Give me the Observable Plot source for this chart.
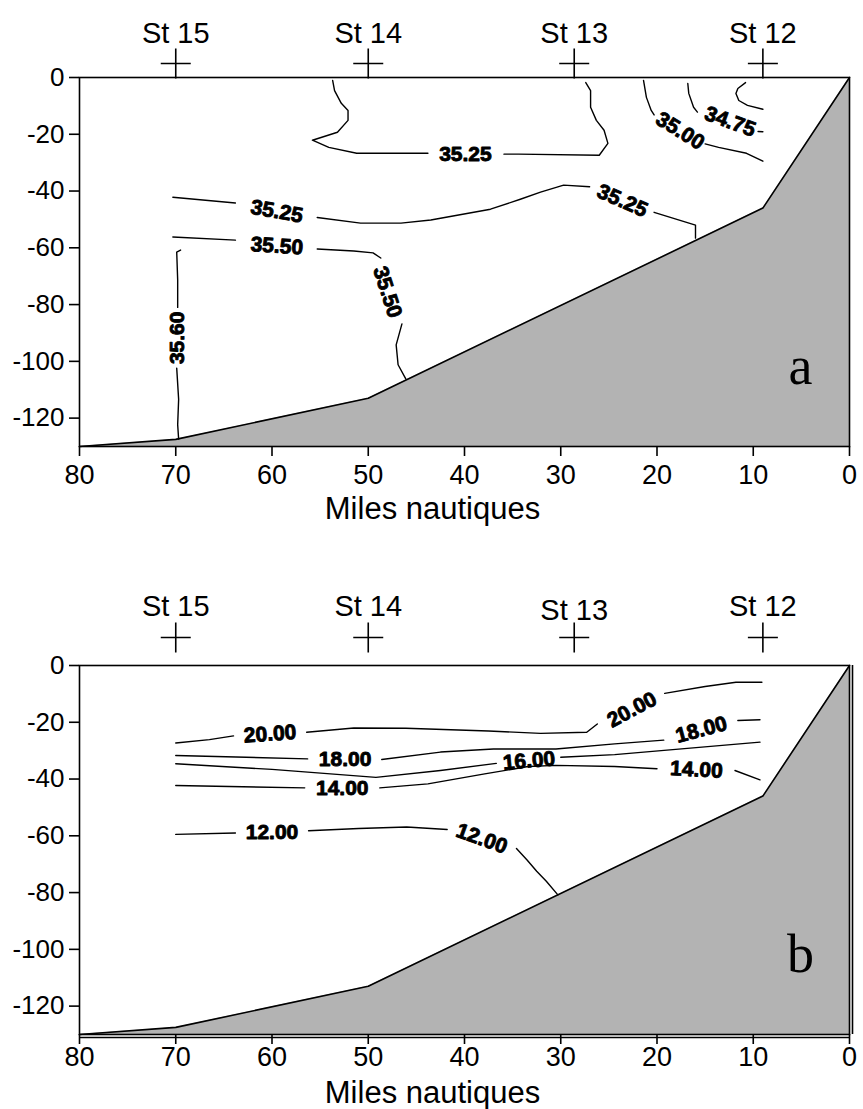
<!DOCTYPE html>
<html><head><meta charset="utf-8">
<script src="https://cdn.jsdelivr.net/npm/d3@7"></script>
<script src="https://cdn.jsdelivr.net/npm/@observablehq/plot@0.6"></script>
<style>
body{margin:0;background:#fff;}
#chart{width:863px;}
#chart svg{display:block;}
</style></head><body><div id="chart"></div>
<script>
// ---- axes / stations ----
const mileTicks = [80, 70, 60, 50, 40, 30, 20, 10, 0];
const depthTicks = [0, -20, -40, -60, -80, -100, -120];
const stationNames = ["St 15", "St 14", "St 13", "St 12"];
const stationMiles = [70, 50, 28.6, 9];
const bottomMiles = [80, 70, 50, 9, 0];
const bottomDepths = [-130, -127.5, -113, -46, 0];
const axisTitle = "Miles nautiques";
const panelLetters = ["a", "b"];

// ---- panel a : salinity contours [mile, depth], null = gap at a label ----
const sal3525Upper = [[53.7,-1],[53.5,-4.6],[52.8,-9.1],[52.1,-11.6],[52.1,-15.1],[53.2,-19.3],[55.8,-22.1],[54.1,-24.6],[51.2,-26.7],[43.8,-26.7],null,[35.9,-27],[34.4,-27],[26.0,-27.4],[25.1,-23.2],[25.5,-18.6],[26.3,-15.1],[26.9,-10.5],[26.9,-4.6],[27.4,-1.8]];
const sal3500 = [[21.4,-1],[21.1,-7],[20.6,-11.6],[20.3,-13.2],null,[15.0,-23.4],[13.6,-24.6],[10.7,-26.7],[9.0,-29.5]];
const sal3475 = [[16.8,-2.1],[16.7,-5.6],[16.2,-10.5],[15.8,-12.2],null,[9.5,-19],[9.0,-19.1]];
const sal3475Curl = [[10.8,-1.8],[11.6,-3.9],[11.8,-5.6],[11.5,-8.1],[10.6,-9.8],[9.0,-11.2]];
const sal3525Lower = [[70.3,-42.2],[63.8,-44.2],null,[55.3,-49.3],[50.8,-51.3],[46.6,-51.3],[43.5,-50.2],[37.3,-46.4],[34.2,-42.9],[32.1,-40.4],[29.7,-37.9],[27.0,-38.5],null,[20.3,-47.5],[16.0,-52.0],[16.0,-56.6]];
const sal3550 = [[70.3,-56.2],[63.8,-57.3],null,[55.3,-60.4],[51.5,-61.1],[49.5,-61.8],[48.7,-63.6],null,[46.5,-86.8],[47.1,-94.2],[46.9,-101.2],[46.1,-106.2]];
const sal3560 = [[69.5,-60.8],[69.9,-61.5],[69.8,-71.3],[69.8,-81.0],null,[69.9,-102.4],[69.7,-113.4],[69.8,-122.3],[69.7,-127.4]];
const salLabelText = ["35.25","35.00","34.75","35.25","35.25","35.50","35.50","35.60"];
const salLabelMile = [39.9, 17.6, 12.4, 59.5, 23.6, 59.5, 48.0, 69.8];
const salLabelDepth = [-26.9, -18.8, -15.6, -47.2, -43.4, -59.4, -75.6, -91.7];
const salLabelAngle = [0, 32, 20, 10, 24, 4, 72, -90];

// ---- panel b : temperature contours ----
const temp20 = [[70,-27.3],[66.5,-26.1],[64.0,-24.8],null,[56.4,-23.5],[51.5,-22.0],[46.1,-22.1],[37.5,-23.1],[32.1,-23.9],[27.3,-23.5],[26.2,-20.6],null,[19.2,-9.8],[15.0,-7.4],[11.8,-5.9],[9.1,-5.9]];
const temp18 = [[70,-31.7],[56.3,-32.9],null,[48.6,-33.1],[42.5,-30.5],[37.0,-29.4],[30.5,-29.4],[24.4,-27.6],[19.3,-26.3],null,[11.6,-19.4],[9.3,-19.1]];
const temp16 = [[70,-34.6],[60,-36.6],[49.2,-39.4],[42.5,-37.0],[36.7,-34.5],null,[30.0,-32.3],[24.4,-31.4],[9.3,-27.0]];
const temp14 = [[70,-42.3],[56.6,-43.1],null,[48.8,-43.1],[43.8,-41.7],[37.9,-38.2],[33.4,-35.6],[30.5,-35.2],[24.4,-35.6],[20.0,-36.4],null,[11.9,-37.0],[9.3,-40.3]];
const temp12 = [[70,-59.5],[63.8,-59.0],null,[56.2,-58.2],[51,-57.4],[46,-56.9],[41.8,-57.8],null,[34.6,-64.5],[33.5,-68.5],[32.5,-72.5],[31.5,-76],[30.3,-80.8]];
const tempLabelText = ["20.00","20.00","18.00","18.00","16.00","14.00","14.00","12.00","12.00"];
const tempLabelMile = [60.2, 22.6, 52.4, 15.4, 33.3, 52.7, 15.9, 60.0, 38.2];
const tempLabelDepth = [-24.1, -15.6, -33.2, -22.6, -33.6, -43.4, -36.7, -58.7, -61.0];
const tempLabelAngle = [-4, -28, 0, -15, -5, 0, 3, 0, 20];

// ---- assemble tables ----
const stations = stationNames.map((name, i) => ({name, mile: stationMiles[i]}));
const bottom = bottomMiles.map((mile, i) => ({mile, depth: bottomDepths[i]}));
function rows(list) {
  const out = [];
  list.forEach((pts, id) => pts.forEach(p => out.push(p ? {id, mile: p[0], depth: p[1]} : {id, mile: NaN, depth: NaN})));
  return out;
}
function labelRows(text, mile, depth, angle) {
  return text.map((t, i) => ({text: t, mile: mile[i], depth: depth[i], angle: angle[i]}));
}
const salRows = rows([sal3525Upper, sal3500, sal3475, sal3475Curl, sal3525Lower, sal3550, sal3560]);
const tempRows = rows([temp20, temp18, temp16, temp14, temp12]);
const salLabels = labelRows(salLabelText, salLabelMile, salLabelDepth, salLabelAngle);
const tempLabels = labelRows(tempLabelText, tempLabelMile, tempLabelDepth, tempLabelAngle);

const crossSymbol = {
  draw(ctx, size) {
    const r = Math.sqrt(size / Math.PI);
    ctx.moveTo(-r, 0); ctx.lineTo(r, 0);
    ctx.moveTo(0, -r); ctx.lineTo(0, r);
  }
};

function panel({lineRows, labels, letter, height, marginTop, marginBottom, crossDy, stDy, st13Dy, tickPad, titleDy, double}) {
  const sans = "'Liberation Sans', Arial, Helvetica, sans-serif";
  return Plot.plot({
    width: 863, height, marginLeft: 79, marginRight: 14, marginTop, marginBottom,
    x: {domain: [80, 0], label: null},
    y: {domain: [-130, 0], label: null},
    style: {fontFamily: sans, color: "black", background: "white", overflow: "visible"},
    marks: [
      Plot.areaY(bottom, {x: "mile", y1: -130, y2: "depth", fill: "#b3b3b3"}),
      Plot.line(bottom, {x: "mile", y: "depth", stroke: "black", strokeWidth: 1.6}),
      Plot.line(lineRows, {x: "mile", y: "depth", z: "id", stroke: "black", strokeWidth: 1.4}),
      Plot.text(labels, {x: "mile", y: "depth", text: "text", rotate: "angle", fontSize: 21, fontWeight: "bold",
        fill: "black", stroke: "black", strokeWidth: 0.9, fontFamily: sans, letterSpacing: -0.5}),
      Plot.frame({stroke: "black", strokeWidth: 1.6}),
      double ? Plot.ruleY([-130], {dy: 3, stroke: "black", strokeWidth: 1.6}) : null,
      double ? Plot.ruleX([0], {dx: 3, stroke: "black", strokeWidth: 1.6}) : null,
      Plot.axisY({ticks: depthTicks, tickFormat: d => String(d), tickSize: 10, tickPadding: 5, fontSize: 26, label: null, strokeWidth: 1.6}),
      Plot.axisX({ticks: mileTicks, tickFormat: d => String(d), tickSize: 10, tickPadding: tickPad, fontSize: 27, label: null, strokeWidth: 1.6}),
      Plot.text([axisTitle], {frameAnchor: "bottom", dx: -32, dy: titleDy, lineAnchor: "top", fontSize: 31}),
      Plot.dot(stations, {x: "mile", frameAnchor: "top", dy: crossDy, symbol: crossSymbol, r: 15, stroke: "black", fill: "none", strokeWidth: 1.6}),
      Plot.text(stations, {filter: d => d.name !== "St 13", x: "mile", frameAnchor: "top", dy: stDy, text: "name", lineAnchor: "bottom", fontSize: 29}),
      Plot.text(stations, {filter: d => d.name === "St 13", x: "mile", frameAnchor: "top", dy: st13Dy, text: "name", lineAnchor: "bottom", fontSize: 29}),
      Plot.text([letter], {frameAnchor: "bottom-right", dx: -49, dy: -63, textAnchor: "middle", lineAnchor: "bottom",
        fontSize: 54, fontFamily: "'Liberation Serif', 'Times New Roman', serif"})
    ]
  });
}

const chart = document.getElementById("chart");
chart.append(panel({lineRows: salRows, labels: salLabels, letter: panelLetters[0], height: 560, marginTop: 77, marginBottom: 114,
  crossDy: -14, stDy: -35, st13Dy: -35, tickPad: 8, titleDy: 50, double: false}));
chart.append(panel({lineRows: tempRows, labels: tempLabels, letter: panelLetters[1], height: 549, marginTop: 105, marginBottom: 75,
  crossDy: -28, stDy: -50, st13Dy: -46, tickPad: 2, titleDy: 46, double: true}));
</script></body></html>
